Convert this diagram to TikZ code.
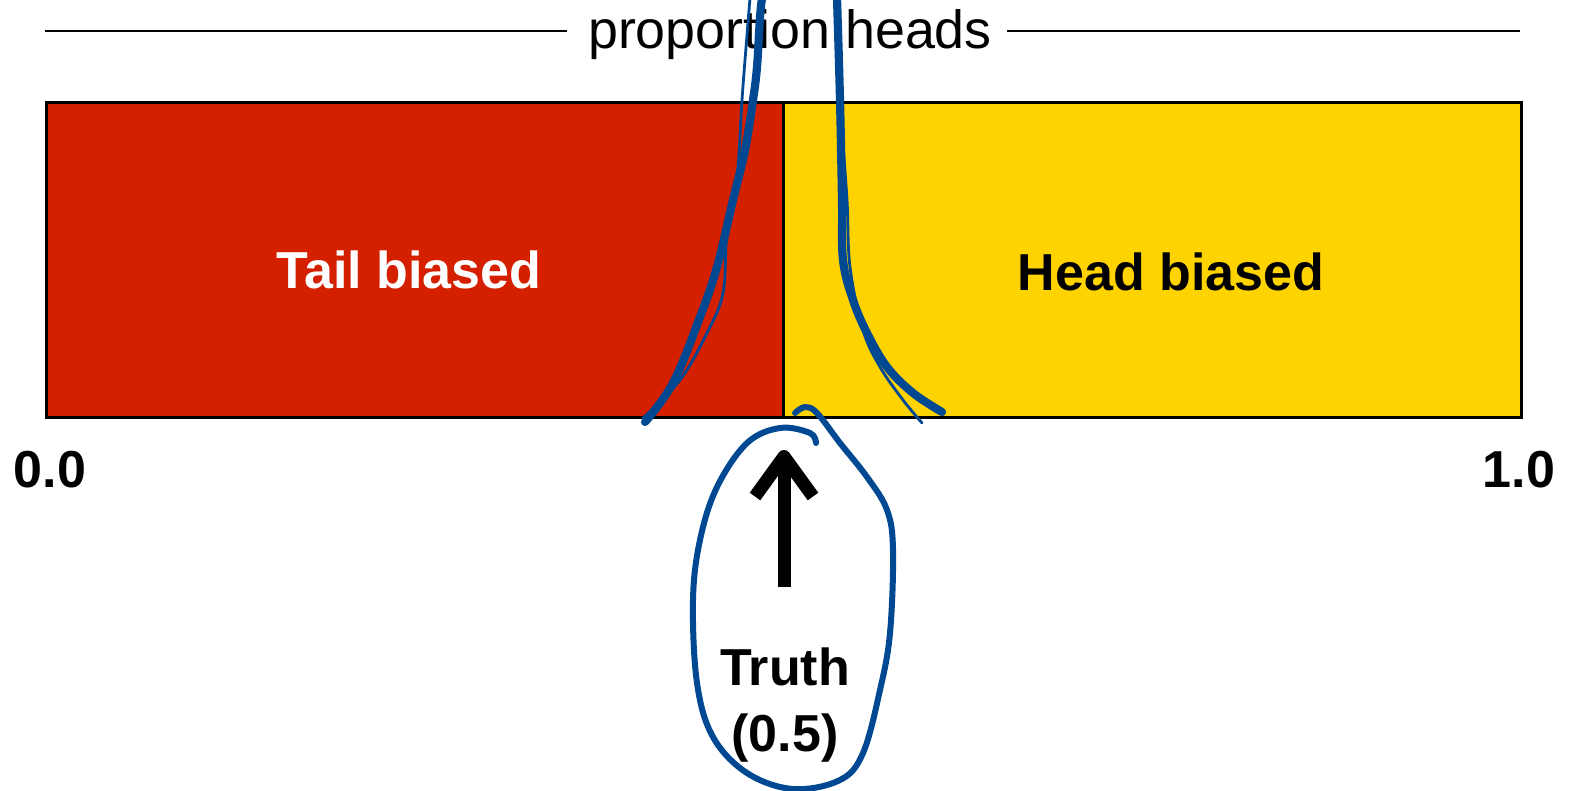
\documentclass[tikz,border=0pt]{standalone}
\usepackage{fontspec}
\setmainfont{Liberation Sans}
\usetikzlibrary{arrows.meta}
\definecolor{tailred}{RGB}{213,32,0}
\definecolor{headyellow}{RGB}{254,211,0}
\definecolor{penblue}{RGB}{0,72,145}
\tikzset{
  region/.style={draw=black, line width=1.5pt, inner sep=0pt, minimum height=157.5pt},
  biglabel/.style={font=\fontsize{26}{30}\selectfont\bfseries, inner sep=0pt},
  titlelabel/.style={font=\fontsize{26.9}{31}\selectfont, inner sep=0pt},
  rule/.style={line width=1pt, black},
  pen/.style={penblue, line cap=round, line join=round},
  thickpen/.style={pen, line width=4.1pt},
  thinpen/.style={pen, line width=1.4pt},
  loopen/.style={pen, line width=3pt},
}
\begin{document}
\begin{tikzpicture}[x=0.5pt,y=-0.5pt]
\useasboundingbox (0,0) rectangle (1572,791);
% title
\node[titlelabel, anchor=base] (title) at (790,49) {proportion heads};
\coordinate (tl) at (45,31);
\coordinate (tlend) at (567,31);
\coordinate (trstart) at (1007,31);
\coordinate (tr) at (1520,31);
\draw[rule] (tl) -- (tlend);
\draw[rule] (trstart) -- (tr);
% regions
\node[region, fill=tailred, minimum width=368.5pt, anchor=north west] (tail) at (45,101) {};
\node[region, fill=headyellow, minimum width=369pt, anchor=north west] (head) at (782,101) {};
\node[biglabel, text=white] (taillab) at (409,270) {Tail biased};
\node[biglabel, text=black] (headlab) at (1171,272) {Head biased};
% axis labels
\node[biglabel] (zero) at (50,470) {0.0};
\node[biglabel] (one) at (1519,470) {1.0};
% truth
\node[biglabel] (truth) at (785,667) {Truth};
\node[biglabel] (half) at (785,738) {(0.5)};
\coordinate (arrowbase) at (784,587);
\coordinate (arrowtip) at (784,450);
\draw[line width=6.5pt, -{Straight Barb[length=20pt,width=29pt,line width=6.5pt,line join=round]}] (arrowbase) -- (arrowtip);
% hand-drawn pen strokes
\draw[thickpen] plot[smooth, tension=0.6] coordinates {(645,422) (673,383) (700,317) (717,267) (733,200) (745,150) (753,100) (757,67) (760,17) (762,-2)};
\draw[thinpen] plot[smooth, tension=0.6] coordinates {(643,418) (680,380) (707,333) (723,293) (727,233) (737,177) (742,100) (745,60) (750,-2)};
\draw[thickpen] plot[smooth, tension=0.6] coordinates {(837,-2) (840,100) (842,200) (843,260) (853,300) (867,333) (887,367) (913,393) (942,412)};
\draw[thinpen] plot[smooth, tension=0.6] coordinates {(842,133) (847,200) (850,267) (863,330) (880,367) (903,400) (922,423)};
\draw[loopen] plot[smooth, tension=0.6] coordinates {(795,413) (805,407) (817,413) (840,443) (867,477) (887,510) (893,550) (890,633) (880,690) (863,753) (840,780) (793,789) (747,773) (713,737) (697,683) (693,600) (700,540) (717,487) (747,443) (780,428) (810,433) (816,443)};
\end{tikzpicture}
\end{document}
